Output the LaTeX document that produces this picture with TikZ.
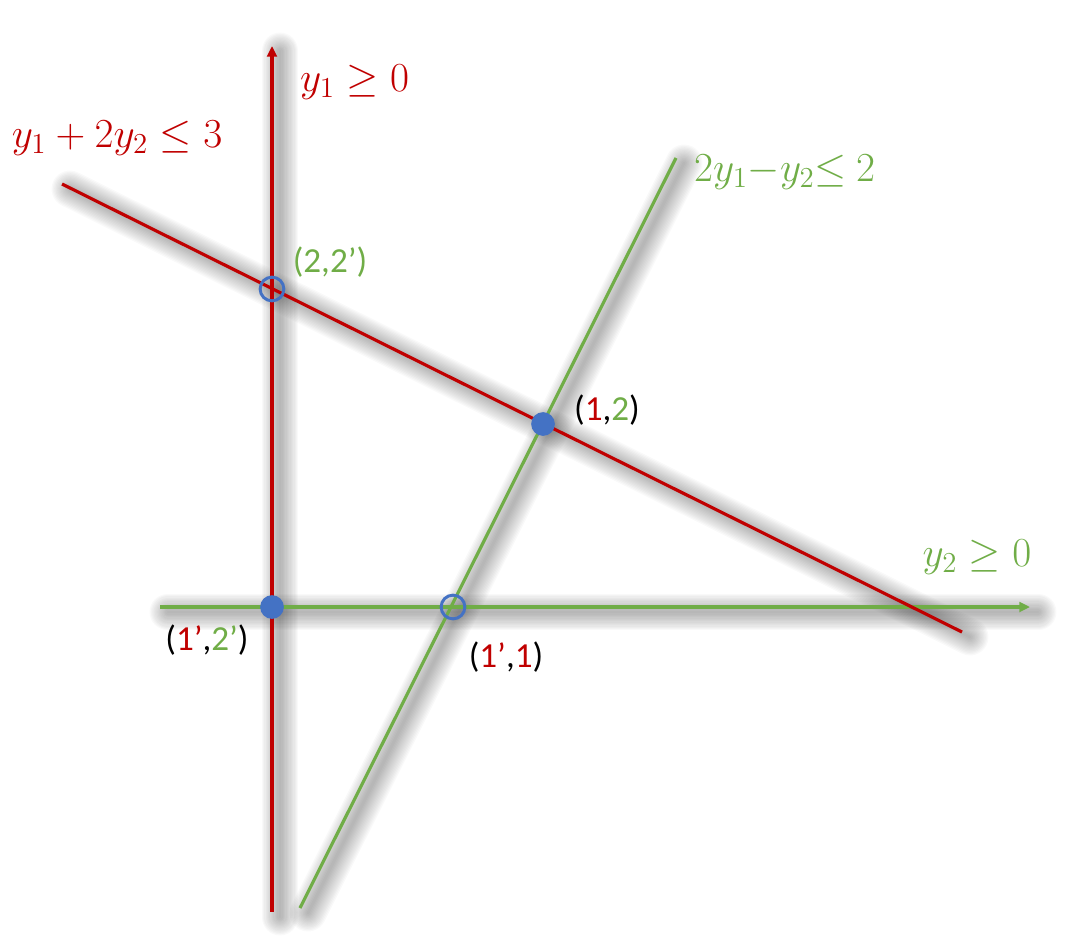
\RequirePackage{fix-cm}
\documentclass[tikz,border=0pt]{standalone}
\usepackage{fontspec}
\setmainfont{Carlito}
\usepackage{amssymb}
\usetikzlibrary{arrows.meta}
\definecolor{dred}{RGB}{192,0,0}
\definecolor{lgreen}{RGB}{112,173,71}
\definecolor{dotblue}{RGB}{68,114,196}

\begin{document}
\begin{tikzpicture}[x=0.02cm, y=-0.02cm, font=\fontsize{20}{24}\selectfont,
	redline/.style={color=dred, line width=1.8pt},
	greenline/.style={color=lgreen, line width=1.8pt},
	axistip/.style={-{Triangle[length=6pt, width=5.5pt]}},
	mathlab/.style={font=\fontsize{23.5}{28}\selectfont},
	opendot/.style={circle, draw=dotblue, line width=1.7pt, minimum size=13.5pt, inner sep=0pt},
	fulldot/.style={circle, fill=dotblue, minimum size=13.5pt, inner sep=0pt}]
\useasboundingbox (0,0) rectangle (1077,950);

% corner points of the lines
	\coordinate (vbot) at (272,912);
	\coordinate (vtop) at (272,46);
	\coordinate (hleft) at (160,607);
	\coordinate (hright) at (1030,607);
	\coordinate (rleft) at (62,184);
	\coordinate (rright) at (962,632);
	\coordinate (gbot) at (300,908);
	\coordinate (gtop) at (676,158);

% soft shadows
	\foreach \a/\b in {vbot/vtop, hleft/hright, rleft/rright, gbot/gtop}
		\foreach \i in {1,...,14}
			\draw[line width=\i*1.5pt, black, opacity=0.022, line cap=round]
				([shift={(8,5)}]\a) -- ([shift={(8,5)}]\b);

% draw lines
	\draw[redline, axistip] (vbot) -- (vtop);
	\draw[greenline, axistip] (hleft) -- (hright);
	\draw[redline] (rleft) -- (rright);
	\draw[greenline] (gbot) -- (gtop);

% labels of the lines
	\node[mathlab, anchor=west, text=dred] (y1lab) at (294,82) {$y_1 \geq 0$};
	\node[mathlab, text=dred] (redlab) at (117,138) {$y_1 + 2y_2 \leq 3$};
	\node[mathlab, anchor=west, text=lgreen] (greenlab) at (688,172) {$2y_1{-}y_2{\leq}\ 2$};
	\node[mathlab, text=lgreen] (y2lab) at (977,557) {$y_2 \geq 0$};

% corner points
	\node[opendot] (p22) at (272,289) {};
	\node[fulldot] (p12) at (543,424) {};
	\node[fulldot] (p12b) at (272,607) {};
	\node[opendot] (p11) at (453,607) {};

	\node[text=lgreen] at (330,262) {(2,2’)};
	\node at (607,410) {(\textcolor{dred}{1},\textcolor{lgreen}{2})};
	\node at (207,640) {(\textcolor{dred}{1’},\textcolor{lgreen}{2’})};
	\node at (506,657) {(\textcolor{dred}{1’},\textcolor{dred}{1})};

\end{tikzpicture}
\end{document}
